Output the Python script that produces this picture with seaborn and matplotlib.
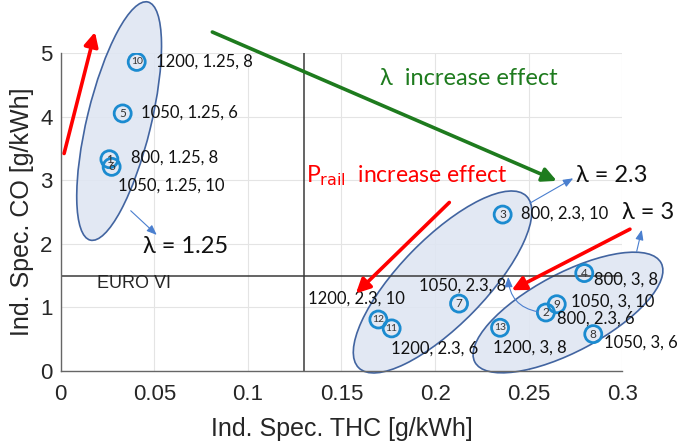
import matplotlib
matplotlib.use("Agg")
import matplotlib.pyplot as plt
import matplotlib.transforms as mtransforms
from matplotlib.patches import Ellipse
import seaborn as sns
import pandas as pd

# Operating points: THC and CO emissions per test case
case_id = [10, 5, 1, 6, 3, 4, 9, 2, 8, 13, 7, 12, 11]
thc = [0.0406, 0.0331, 0.0260, 0.0272, 0.2361, 0.2797, 0.2650, 0.2592,
       0.2845, 0.2347, 0.2128, 0.1697, 0.1768]
co = [4.86, 4.05, 3.33, 3.21, 2.46, 1.54, 1.05, 0.92, 0.58, 0.68, 1.06,
      0.81, 0.67]

# Case settings "P_rail, lambda, SOI" and where each caption sits
case_labels = ["1200, 1.25, 8", "1050, 1.25, 6", "800, 1.25, 8", "1050, 1.25, 10",
               "800, 2.3, 10", "800, 3, 8", "1050, 3, 10", "800, 2.3, 6",
               "1050, 3, 6", "1200, 3, 8", "1200, 2.3, 6", "1200, 2.3, 10",
               "1050, 2.3, 8"]
label_pos = [(0.0507, 4.86), (0.0427, 4.06), (0.0376, 3.35), (0.0304, 2.92),
             (0.2459, 2.48), (0.2849, 1.44), (0.2724, 1.09), (0.2650, 0.83),
             (0.2902, 0.44), (0.2311, 0.36), (0.1763, 0.35), (0.1323, 1.14),
             (0.1916, 1.34)]

x_ticks = [0, 0.05, 0.1, 0.15, 0.2, 0.25, 0.3]
x_tick_labels = ["0", "0.05", "0.1", "0.15", "0.2", "0.25", "0.3"]
y_ticks = [0, 1, 2, 3, 4, 5]

euro6_thc = 0.13
euro6_co = 1.5

df = pd.DataFrame({"case": case_id, "THC": thc, "CO": co})

sns.set_theme(style="white")
plt.rcParams["font.family"] = ["Liberation Sans", "DejaVu Sans"]
label_font = ["Lato", "DejaVu Sans"]

fig = plt.figure(figsize=(6.8, 4.44), dpi=100)
ax = fig.add_axes([0.0893, 0.1644, 0.8258, 0.7162])

ax.set_xlim(0, 0.3)
ax.set_ylim(0, 5)
ax.set_xticks(x_ticks)
ax.set_xticklabels(x_tick_labels)
ax.set_yticks(y_ticks)
ax.grid(True, color="#e4e4e4", linewidth=0.8)
ax.set_axisbelow(True)
for side in ("top", "right"):
    ax.spines[side].set_visible(False)
for side in ("left", "bottom"):
    ax.spines[side].set_color("#666666")
    ax.spines[side].set_linewidth(1.0)
ax.tick_params(direction="in", length=4, width=0.8, color="#666666",
               labelsize=16, labelcolor="#262626")
ax.tick_params(axis="x", pad=9)
ax.tick_params(axis="y", pad=6)

# Groups of constant lambda, drawn as ellipses sized in inches around a data centre
groups = [
    ((0.0312, 3.93), 2.45, 0.64, 76.4),
    ((0.2040, 1.40), 2.40, 0.86, 45.7),
    ((0.2710, 0.92), 2.11, 0.78, 28.0),
]
for (cx, cy), w, h, ang in groups:
    tr = fig.dpi_scale_trans + mtransforms.ScaledTranslation(cx, cy, ax.transData)
    ell = Ellipse((0, 0), w, h, angle=ang, transform=tr, facecolor="#dfe6f2",
                  edgecolor="#2f5597", linewidth=1.2, alpha=0.9, zorder=1,
                  clip_on=False)
    ax.add_patch(ell)

# EURO VI limits
ax.axvline(euro6_thc, color="#3a3a3a", linewidth=1.1, zorder=2)
ax.axhline(euro6_co, color="#3a3a3a", linewidth=1.1, zorder=2)
ax.text(0.0194, 1.38, "EURO VI", fontsize=13, color="#262626", va="center")

sns.scatterplot(data=df, x="THC", y="CO", ax=ax, marker="o", s=150,
                facecolor="none", edgecolor="#1b8bd0", linewidth=2.0,
                zorder=4, legend=False)
ax.set_xlabel("Ind. Spec. THC [g/kWh]", fontsize=18, color="#262626", labelpad=9)
ax.set_ylabel("Ind. Spec. CO [g/kWh]", fontsize=18, color="#262626", labelpad=4)

for cid, xv, yv in zip(case_id, thc, co):
    ax.text(xv, yv, str(cid), fontsize=7.5 if cid >= 10 else 8.5, color="#333333",
            ha="center", va="center", zorder=5, family=label_font)

for txt, (lx, ly) in zip(case_labels, label_pos):
    ax.text(lx, ly, txt, fontsize=12, color="#111111", va="center",
            family=label_font, zorder=5, clip_on=False)

# Lambda annotations
for txt, (lx, ly) in zip(["λ = 1.25", "λ = 2.3", "λ = 3"],
                         [(0.0440, 1.95), (0.2755, 3.07), (0.2997, 2.50)]):
    ax.text(lx, ly, txt, fontsize=17, color="#111111", va="center",
            family=label_font, clip_on=False)

ax.text(0.1706, 4.60, "λ  increase effect", fontsize=17, color="#1e7b1e",
        va="center", family=label_font)
ax.text(0.1311, 3.07, r"P$_{\mathrm{rail}}$  increase effect", fontsize=16.5,
        color="#ff0000", va="center", family=label_font)


def arrow(start, end, color, lw, head, rad=0.0):
    ax.annotate("", xy=end, xytext=start, xycoords="data", textcoords="data",
                annotation_clip=False, zorder=6,
                arrowprops=dict(arrowstyle=f"-|>,head_length={head[0]},head_width={head[1]}",
                                color=color, lw=lw, shrinkA=0, shrinkB=0,
                                connectionstyle=f"arc3,rad={rad}"))


# Rail pressure effect (red) and lambda effect (green)
arrow((0.0018, 3.42), (0.0183, 5.33), "#ff0000", 2.6, (0.7, 0.35))
arrow((0.2076, 2.65), (0.1577, 1.22), "#ff0000", 2.6, (0.7, 0.35))
arrow((0.3041, 2.23), (0.2409, 1.27), "#ff0000", 2.6, (0.7, 0.35))
arrow((0.0810, 5.33), (0.2650, 2.99), "#1e7b1e", 2.6, (0.7, 0.35))

# Thin pointers from the ellipses to their lambda labels
arrow((0.0374, 2.52), (0.0513, 2.14), "#4a7fcf", 0.8, (0.5, 0.2))
arrow((0.2507, 2.64), (0.2738, 3.03), "#4a7fcf", 0.8, (0.5, 0.2))
arrow((0.3077, 1.88), (0.3104, 2.22), "#4a7fcf", 0.8, (0.5, 0.2))
arrow((0.2551, 0.93), (0.2391, 1.48), "#4a7fcf", 0.8, (0.5, 0.2), rad=-0.4)

fig.savefig("out.png", dpi=100)
